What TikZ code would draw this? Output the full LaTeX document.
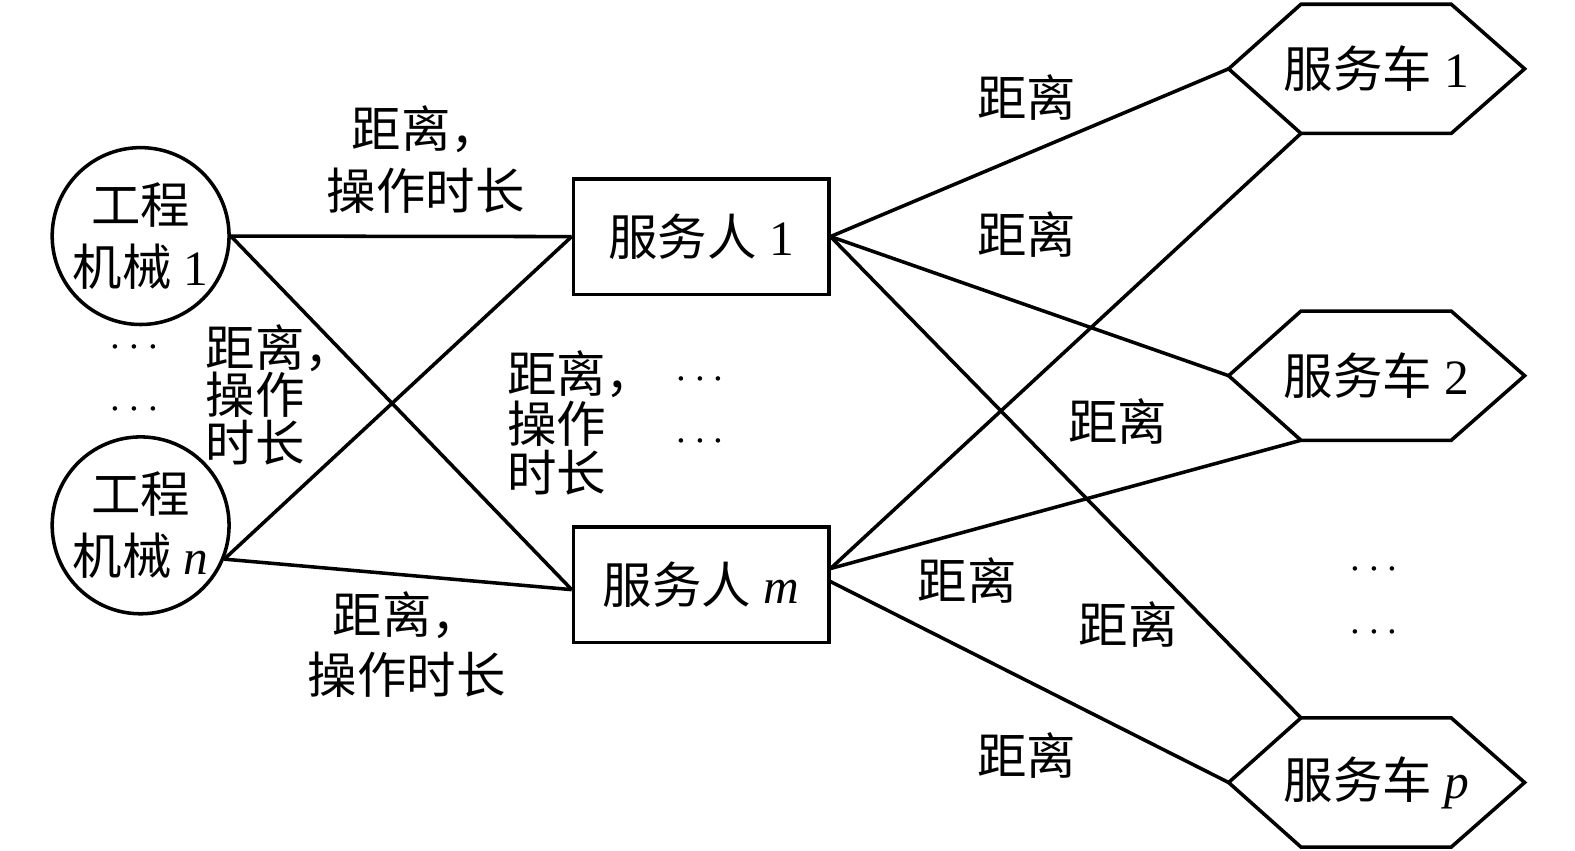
\documentclass[tikz,border=0pt]{standalone}
\usepackage{fontspec}
\setmainfont{Liberation Serif}
\newfontfamily\zhfont{Noto Sans CJK SC}
\newcommand{\zh}[1]{{\zhfont #1}}

\begin{document}
\begin{tikzpicture}[x=0.01cm,y=-0.01cm,line width=1pt,
  font=\fontsize{14}{17}\selectfont,
  jixie/.style={circle,draw,minimum size=1.76cm,inner sep=0pt,align=center,
    font=\fontsize{14}{17.6}\selectfont},
  renyuan/.style={rectangle,draw,minimum width=2.54cm,minimum height=1.15cm,inner sep=0pt},
  che/.style={rectangle,minimum width=2.91cm,minimum height=1.25cm,inner sep=0pt},
  juli/.style={inner sep=0pt,align=center},
  dian/.style={inner sep=0pt,font=\fontsize{12.5}{14}\selectfont}]
\useasboundingbox (0,0) rectangle (1568,847);

% machines
\node[jixie] (m1) at (140,235) {\zh{工程}\\\zh{机械} 1};
\node[jixie] (mn) at (140,523) {\zh{工程}\\\zh{机械} \textit{n}};
\node[dian] (d1) at (134,347) {$\cdots$};
\node[dian] (d2) at (134,408) {$\cdots$};

% service people
\node[renyuan] (s1) at (698,235.5) {\zh{服务人} 1};
\node[renyuan] (sm) at (698,582) {\zh{服务人} \textit{m}};
\node[dian] (d3) at (697,378) {$\cdots$};
\node[dian] (d4) at (697,440) {$\cdots$};

% service cars
\node[che] (c1) at (1370.5,68.5) {\zh{服务车} 1};
\node[che] (c2) at (1370.5,374) {\zh{服务车} 2};
\node[che] (cp) at (1370.5,779) {\zh{服务车} \textit{p}};
\foreach \h in {c1,c2,cp}{
  \coordinate (\h-nw) at ([xshift=0.72cm]\h.north west);
  \coordinate (\h-ne) at ([xshift=-0.73cm]\h.north east);
  \coordinate (\h-se) at ([xshift=-0.73cm]\h.south east);
  \coordinate (\h-sw) at ([xshift=0.72cm]\h.south west);
  \draw (\h.west) -- (\h-nw) -- (\h-ne) -- (\h.east) -- (\h-se) -- (\h-sw) -- cycle;
}
\node[dian] (d5) at (1368,568) {$\cdots$};
\node[dian] (d6) at (1368,630) {$\cdots$};

% links machine - people
\draw (m1.east) -- (s1.west);
\draw (m1.east) -- ([yshift=-0.05cm]sm.west);
\draw (mn.-22) -- (s1.west);
\draw (mn.-22) -- ([yshift=-0.05cm]sm.west);

% links people - cars
\draw (s1.east) -- (c1.west);
\draw (s1.east) -- (c2.west);
\draw (s1.east) -- (cp-nw);
\draw ([yshift=0.16cm]sm.east) -- (c1-sw);
\draw ([yshift=0.16cm]sm.east) -- (c2-sw);
\draw ([yshift=0.03cm]sm.east) -- (cp.west);

% labels
\node[juli,font=\fontsize{14}{17.6}\selectfont] (l1) at (424,159) {\zh{距离，}\\\zh{操作时长}};
\node[juli,align=left,anchor=west,font=\fontsize{14}{13.5}\selectfont] (l2) at (203,393) {\zh{距离，}\\\zh{操作}\\\zh{时长}};
\node[juli,align=left,anchor=west,font=\fontsize{14}{13.9}\selectfont] (l3) at (503,421) {\zh{距离，}\\\zh{操作}\\\zh{时长}};
\node[juli,font=\fontsize{14}{17}\selectfont] (l4) at (405,642) {\zh{距离，}\\\zh{操作时长}};
\node[juli] (l5) at (1022,97) {\zh{距离}};
\node[juli] (l6) at (1022,233) {\zh{距离}};
\node[juli] (l7) at (1113,420) {\zh{距离}};
\node[juli] (l8) at (963,578) {\zh{距离}};
\node[juli] (l9) at (1123,622) {\zh{距离}};
\node[juli] (l10) at (1022,752) {\zh{距离}};
\end{tikzpicture}
\end{document}
